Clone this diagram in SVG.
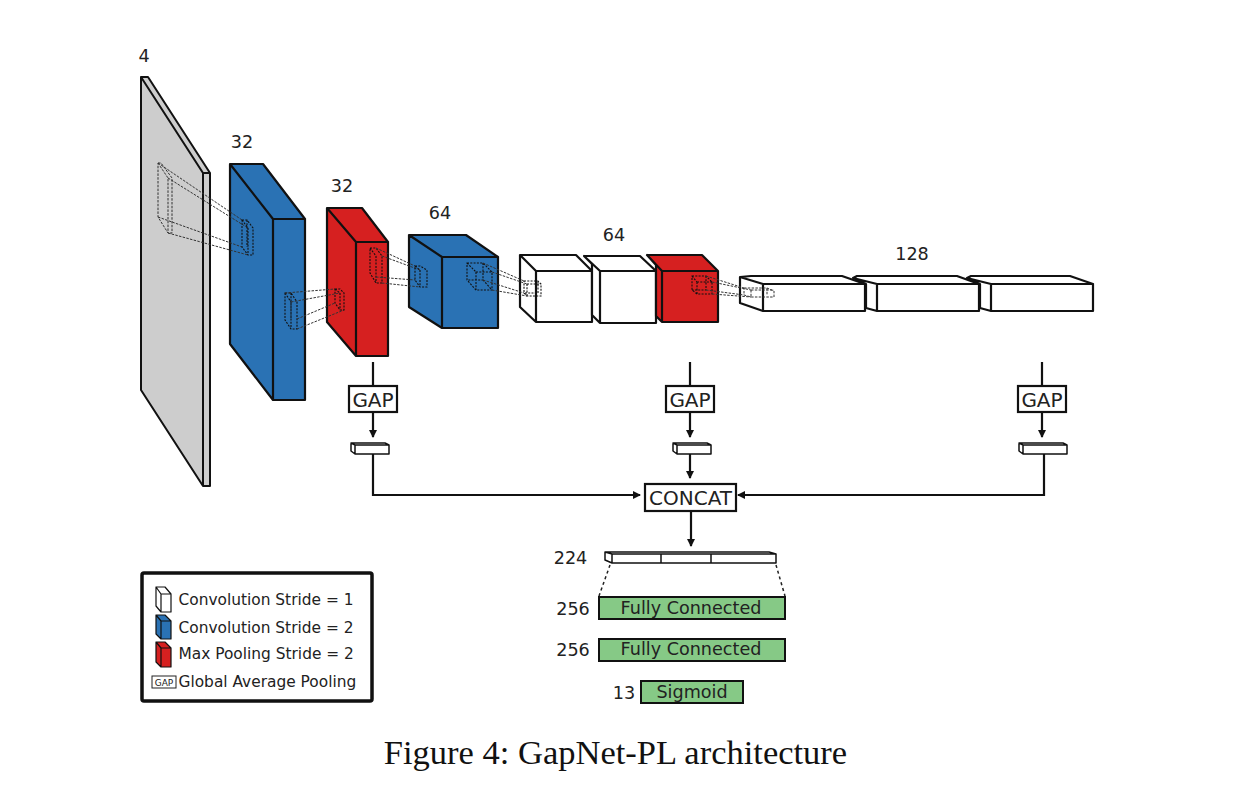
<svg xmlns="http://www.w3.org/2000/svg" width="1256" height="787" viewBox="0 0 1256 787">
<style>
text{font-family:"DejaVu Sans",sans-serif;fill:#222;font-size:17.6px;text-anchor:middle}
.b path,.b rect{stroke:#111;stroke-width:2.200;stroke-linejoin:round}
.w path{fill:#fff}.bl path{fill:#2a72b4}.r path{fill:#d62020}.g path{fill:#cdcdcd;stroke-width:2}
.t path{stroke-width:1.500}
.k{fill:none;stroke:#111;stroke-width:1.100;stroke-dasharray:2 1.300}
.k2{fill:none;stroke:#333;stroke-width:1;stroke-dasharray:2.500 1.300}
.c{fill:none;stroke:#111;stroke-width:2.200}
.box{fill:#fff;stroke:#111;stroke-width:2.200}
.fc{fill:#86c986;stroke:#111;stroke-width:2}
.big{font-size:20px}
.lg{font-size:15.4px;text-anchor:start}
</style>
<defs>
<marker id="a" markerWidth="9" markerHeight="8" refX="7" refY="4" orient="auto" markerUnits="userSpaceOnUse"><path d="M0 0L8 4L0 8Z" fill="#111"/></marker>
</defs>
<rect width="1256" height="787" fill="#fff"/>
<g id="input" class="b g"><path d="M141 77H148L210 173H203ZM141 77L203 173V486L141 390ZM203 173H210V486H203Z"/></g>
<g id="conv1" class="b bl"><path d="M230 164H263L305 219H273ZM230 164L273 219V400L230 344ZM273 219H305V400H273Z"/></g>
<g id="pool1" class="b r"><path d="M327 208H362L388 242H356ZM327 208L356 242V356L327 322ZM356 242H388V356H356Z"/></g>
<g id="conv2" class="b bl"><path d="M409 235H466L498 257H442ZM409 235L442 257V328L409 307ZM442 257H498V328H442Z"/></g>
<g id="conv3" class="b w"><path d="M520 255H576L592 271H536ZM520 255L536 271V322L520 307ZM536 271H592V322H536Z"/></g>
<g id="conv4" class="b w"><path d="M584 256H640L656 271H600ZM584 256L600 271V323L592 315V264ZM600 271H656V323H600Z"/></g>
<g id="pool2" class="b r"><path d="M647 255H702L718 271H662ZM647 255L662 271V322L656 316V265ZM662 271H718V322H662Z"/></g>
<g id="conv5" class="b w"><path d="M740 277L751 276H842L865 284H763ZM740 277L763 284V311L740 303ZM763 284H865V311H763Z"/></g>
<g id="conv6" class="b w"><path d="M853 278L857 276H957L979 284H877ZM853 278L877 284V311L866 308V284ZM877 284H979V311H877Z"/></g>
<g id="conv7" class="b w"><path d="M967 278L971 276H1070L1093 284H991ZM967 278L991 284V311L980 308V284ZM991 284H1093V311H991Z"/></g>
<g id="kernels">
<path class="k2" d="M158 163L168 178V233L158 217ZM158 163H161L172 178V233H168"/>
<path class="k2" d="M158 163L242 220M168 178L248 228M158 217L242 247M168 233L248 255"/>
<path class="k" d="M242 220H247L253 228V255H248L242 247ZM248 228V255M242 220L248 228M247 220V247"/>
<path class="k" d="M285 293H291L297 302V329H291L285 320ZM291 302V329M285 293L291 302M291 293V320"/>
<path class="k2" d="M285 293L335 289M291 302L340 293M297 319L335 303M297 329L344 310"/>
<path class="k" d="M335 289H340L344 293V310H340L335 303ZM340 293V310M335 289L340 293"/>
<path class="k" d="M370 248H376L382 256V283H376L370 273ZM376 256V283M370 248L376 256"/>
<path class="k2" d="M376 248L415 266M382 256L420 270M376 277L415 280M382 283L420 287"/>
<path class="k" d="M415 266H420L427 270V287H420L415 280ZM420 270V287M415 266L420 270"/>
<path class="k" d="M467 263H483L492 272V290H476L467 280ZM476 272H492M476 272V290M467 263L476 272M483 263V280H467M483 280L492 290"/>
<path class="k2" d="M483 263L524 281M492 272L527 284M483 280L524 293M492 290L527 296"/>
<path class="k" d="M524 281H538L541 284V296H527L524 293ZM527 284H541M527 284V296M538 281V293H524"/>
<path class="k" d="M692 276H706L712 282V294H697L692 290ZM697 282H712M697 282V294M692 276L697 282M706 276V290H692"/>
<path class="k2" d="M706 276L744 288M712 282L751 290M706 290L744 295M712 294L751 297"/>
<path class="k2" d="M744 288H767L774 291V297H751L744 295ZM751 290H774M751 290V297M767 288V295"/>
</g>
<g id="connectors">
<path class="c" d="M373 362V386M373 412V437" marker-end="url(#a)"/>
<path class="c" d="M373 454V495H640" marker-end="url(#a)"/>
<path class="c" d="M690 362V386M690 412V437" marker-end="url(#a)"/>
<path class="c" d="M690 454V478" marker-end="url(#a)"/>
<path class="c" d="M1042 362V386M1042 412V437" marker-end="url(#a)"/>
<path class="c" d="M1044 454V495H738" marker-end="url(#a)"/>
<path class="c" d="M691 511V546" marker-end="url(#a)"/>
<path d="M610 565L599 596M776 565L785 596" fill="none" stroke="#222" stroke-width="1.500" stroke-dasharray="3 3"/>
</g>
<g id="gap1"><rect class="box" x="349" y="386" width="48" height="26"/><text class="big" x="373" y="407">GAP</text></g>
<g id="gap2"><rect class="box" x="666" y="386" width="48" height="26"/><text class="big" x="690" y="407">GAP</text></g>
<g id="gap3"><rect class="box" x="1018" y="386" width="48" height="26"/><text class="big" x="1042" y="407">GAP</text></g>
<g id="bar1" class="b w t"><path d="M351 443H385L389 445H355ZM351 443L355 445V454L351 451ZM355 445H389V454H355Z"/></g>
<g id="bar2" class="b w t"><path d="M673 443H707L711 445H677ZM673 443L677 445V454L673 451ZM677 445H711V454H677Z"/></g>
<g id="bar3" class="b w t"><path d="M1019 443H1063L1067 445H1023ZM1019 443L1023 445V454L1019 451ZM1023 445H1067V454H1023Z"/></g>
<g id="concat"><rect class="box" x="645" y="484" width="91" height="27"/><text class="big" x="690.500" y="505">CONCAT</text></g>
<g id="bar224" class="b w t"><path d="M605 552H769L776 554H612ZM605 552L612 554V563L605 560ZM612 554H661V563H612ZM661 554H711V563H661ZM711 554H776V563H711Z"/></g>
<g id="fc1"><rect class="fc" x="599" y="597" width="186" height="22"/><text x="691" y="614">Fully Connected</text></g>
<g id="fc2"><rect class="fc" x="599" y="639" width="186" height="22"/><text x="691" y="655">Fully Connected</text></g>
<g id="sigmoid"><rect class="fc" x="641" y="681" width="102" height="22"/><text x="692" y="698">Sigmoid</text></g>
<g id="labels">
<text x="144" y="62">4</text><text x="242" y="148">32</text><text x="342" y="192">32</text><text x="440" y="219">64</text><text x="614" y="241">64</text><text x="912" y="260">128</text><text x="570.500" y="564">224</text><text x="573" y="615">256</text><text x="573" y="656">256</text><text x="624" y="699">13</text>
</g>
<g id="legend">
<rect x="142" y="573" width="230" height="128" rx="2" fill="#fff" stroke="#111" stroke-width="3.500"/>
<g class="b w"><path style="stroke-width:1.200" d="M156 587H165L171 594H161ZM156 587L161 594V612L156 606ZM161 594H171V612H161Z"/></g>
<g class="b bl"><path style="stroke-width:1.200" d="M156 615H165L171 621H161ZM156 615L161 621V639L156 634ZM161 621H171V639H161Z"/></g>
<g class="b r"><path style="stroke-width:1.200" d="M156 642H165L171 648H161ZM156 642L161 648V667L156 662ZM161 648H171V667H161Z"/></g>
<rect x="152" y="676" width="24" height="12" fill="#fff" stroke="#222" stroke-width="1"/>
<text x="164" y="686" style="font-size:9px">GAP</text>
<text class="lg" x="178.500" y="605">Convolution Stride = 1</text>
<text class="lg" x="178.500" y="633">Convolution Stride = 2</text>
<text class="lg" x="178.500" y="659">Max Pooling Stride = 2</text>
<text class="lg" x="178.500" y="687">Global Average Pooling</text>
</g>
<text id="caption" x="615.500" y="764" style="font-family:'Liberation Serif',serif;font-size:34.500px;fill:#111">Figure 4: GapNet-PL architecture</text>
</svg>
